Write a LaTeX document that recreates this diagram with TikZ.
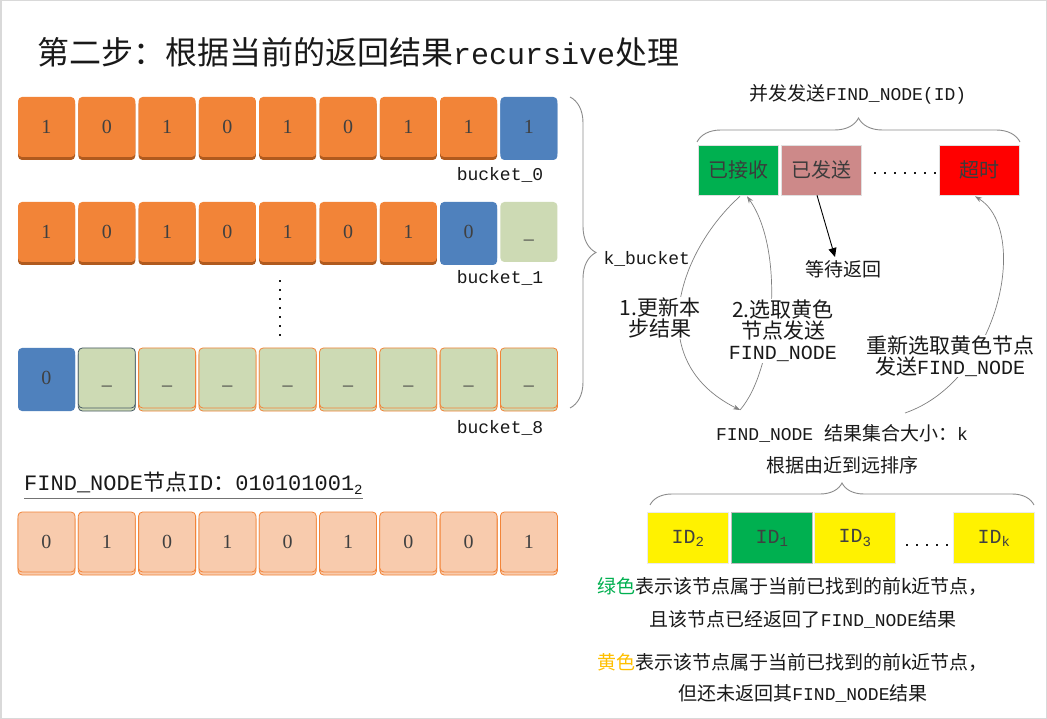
\documentclass[tikz,border=0pt]{standalone}
\usepackage{fontspec}
\setmainfont{Liberation Serif}
\newfontfamily\cjk{Noto Sans CJK SC}
\newfontfamily\mono{Liberation Mono}
\usetikzlibrary{shadows,decorations.pathreplacing,arrows.meta,calc}
\newcommand\fsz[1]{\fontsize{#1}{#1}\selectfont}
\definecolor{org}{RGB}{242,132,56}
\definecolor{orgdark}{RGB}{176,90,30}
\definecolor{blu}{RGB}{79,129,189}
\definecolor{lgreen}{RGB}{205,218,180}
\definecolor{salmon}{RGB}{248,203,173}
\definecolor{green2}{RGB}{0,176,80}
\definecolor{rose}{RGB}{205,137,137}
\definecolor{txt}{RGB}{64,64,64}
\definecolor{slate}{RGB}{70,90,100}
\definecolor{yel}{RGB}{255,192,0}
\definecolor{ink}{RGB}{25,25,25}
\tikzset{
  cell/.style={rounded corners=4pt, minimum width=57pt, minimum height=60pt, inner sep=0pt,
    font=\fsz{20}, text=txt, text height=13pt, text depth=0pt},
  oc/.style={cell, fill=org, drop shadow={shadow xshift=0pt, shadow yshift=-3pt, fill=orgdark, opacity=1}},
  bc/.style={cell, fill=blu, drop shadow={shadow xshift=0pt, shadow yshift=-3pt, fill=blu, opacity=1}},
  gc/.style={cell, fill=lgreen, draw=org, line width=0.8pt, drop shadow={shadow xshift=0pt, shadow yshift=-3pt, fill=lgreen, draw=org, opacity=1}},
  gcs/.style={cell, fill=lgreen, draw=slate, line width=0.8pt, drop shadow={shadow xshift=0pt, shadow yshift=-3pt, fill=lgreen, draw=slate, opacity=1}},
  gcp/.style={cell, fill=lgreen},
  sc/.style={cell, fill=salmon, draw=org, line width=0.8pt, drop shadow={shadow xshift=0pt, shadow yshift=-3pt, fill=salmon, draw=org, opacity=1}},
  blabel/.style={font=\mono\fsz{18}, text=ink},
  lbl/.style={font=\cjk\fsz{19}, text=ink, inner sep=1pt},
  sbox/.style={minimum width=80pt, minimum height=50pt, inner sep=0pt, draw=black!12, line width=0.6pt, font=\cjk\fsz{20}, text=ink!85},
  idbox/.style={minimum width=81pt, minimum height=51pt, inner sep=0pt, draw=black!8, line width=0.6pt, font=\mono\fsz{20}, text=txt},
  brc/.style={decorate, draw=black!45, line width=0.9pt},
  garc/.style={draw=black!50, line width=0.7pt},
  garrow/.style={garc, -{Stealth[length=7pt,width=5pt]}},
  arclbl/.style={font=\cjk\fsz{21}, text=ink, fill=white, inner sep=1pt, align=center},
  dot/.style={fill=ink},
}
\begin{document}
\begin{tikzpicture}[x=1pt,y=-1pt]
\useasboundingbox (0,0) rectangle (1047,719);
\fill[white] (0,0) rectangle (1047,719);
\draw[black!15, line width=1.5pt] (0.75,0.75) rectangle (1046.25,718.25);

% title
\node[anchor=west, inner sep=0pt, text=ink] (title) at (37,52) {\cjk\fsz{32}第二步：根据当前的返回结果{\mono\fsz{30}recursive}处理};

% row 1 (bucket_0)
\foreach \v [count=\i from 0] in {1,0,1,0,1,0,1,1}
  \node[oc] (a\i) at ({46.5+60.3*\i},127) {\v};
\node[bc] (a8) at ({46.5+60.3*8},127) {1};
\node[blabel] (b0) at (500,175) {bucket\_0};

% row 2 (bucket_1)
\foreach \v [count=\i from 0] in {1,0,1,0,1,0,1}
  \node[oc] (c\i) at ({46.5+60.3*\i},232) {\v};
\node[bc] (c7) at ({46.5+60.3*7},232) {0};
\node[gcp] (c8) at ({46.5+60.3*8},232) {\_};
\node[blabel] (b1) at (500,278) {bucket\_1};

% vertical dots
\foreach \yy in {281,290,...,335}
  \fill[dot] (278.8,\yy-1) rectangle (280.8,\yy+1);

% row 3 (bucket_8)
\node[bc] (d0) at (46.5,378) {0};
\node[gcs] (d1) at ({46.5+60.3},378) {\_};
\foreach \i in {2,...,8}
  \node[gc] (d\i) at ({46.5+60.3*\i},378) {\_};
\node[blabel] (b8) at (500,428) {bucket\_8};

% k_bucket brace
\draw[brc, decoration={brace, amplitude=26pt}] (570,97) -- (570,408);
\node[blabel, anchor=west] (kb) at (600,259) {k\_bucket};

% FIND_NODE id
\node[anchor=west, inner sep=0pt, text=ink] (fid) at (24,483) {\cjk\fsz{22}{\mono FIND\_NODE}节点{\mono ID}：{\mono 010101001}\raisebox{-4pt}{\fsz{14}\mono 2}};
\draw[black!55, line width=1pt] ($(fid.south west)+(0,4)$) -- ($(fid.south east)+(0,4)$);

\foreach \v [count=\i from 0] in {0,1,0,1,0,1,0,0,1}
  \node[sc] (e\i) at ({46.5+60.3*\i},542) {\v};

% right: concurrent FIND_NODE
\node[lbl] (conc) at (858,94) {并发发送{\mono\fsz{18}FIND\_NODE(ID)}};
\draw[brc, decoration={brace, amplitude=24pt}] (697,142) -- (1020,142);
\node[sbox, fill=green2] (rcv) at (738,170) {已接收};
\node[sbox, fill=rose] (sent) at (821,170) {已发送};
\node[sbox, fill=red] (tout) at (979,170) {超时};
\foreach \xx in {875,885,...,935}
  \fill[dot] (\xx-1,172) rectangle (\xx+1,174);

\node[lbl] (wait) at (843,269) {等待返回};
\draw[-{Triangle[length=9pt,width=8pt]}, line width=0.9pt, black] ($(sent.south)+(-4,0)$) -- ($(wait.north)+(-8,-2)$);

\node[lbl] (res) at (842,433) {{\mono\fsz{18}FIND\_NODE }结果集合大小：{\mono\fsz{18}k}};
\node[lbl] (sort) at (842,465) {根据由近到远排序};
\coordinate (in1) at (740,410);
\coordinate (in3) at (905,413);

\draw[garrow] ($(rcv.south)+(2,1)$) .. controls (680,250) and (640,360) .. (in1);
\draw[garrow] (in1) .. controls (775,370) and (785,250) .. ($(rcv.south)+(9,1)$);
\draw[garrow] (in3) .. controls (1000,380) and (1030,230) .. ($(tout.south)+(-4,1)$);

\node[arclbl] (l1) at (660,318) {1.更新本\\步结果};
\node[arclbl] (l2) at (783,331) {2.选取黄色\\节点发送\\{\mono\fsz{20}FIND\_NODE}};
\node[arclbl] (l3) at (950,356) {重新选取黄色节点\\发送{\mono\fsz{20}FIND\_NODE}};

% sorted result
\draw[brc, decoration={brace, amplitude=22pt}] (650,505) -- (1034,505);
\node[idbox, fill=yellow] (id2) at (688,538) {ID\textsubscript{2}};
\node[idbox, fill=green2, draw=black!25] (id1) at (772,538) {ID\textsubscript{1}};
\node[idbox, fill=yellow] (id3) at (855,538) {ID\textsubscript{3}};
\node[idbox, fill=yellow] (idk) at (994,538) {ID\textsubscript{k}};
\foreach \xx in {907,917,...,947}
  \fill[dot] (\xx-1,544) rectangle (\xx+1,546);

% legend
\node[lbl, anchor=west] (g1) at (596,586) {{\color{green2}绿色}表示该节点属于当前已找到的前k近节点，};
\node[lbl] (g2) at (803,619) {且该节点已经返回了{\mono\fsz{18}FIND\_NODE}结果};
\node[lbl, anchor=west] (y1) at (596,662) {{\color{yel}黄色}表示该节点属于当前已找到的前k近节点，};
\node[lbl] (y2) at (803,693) {但还未返回其{\mono\fsz{18}FIND\_NODE}结果};
\end{tikzpicture}
\end{document}
